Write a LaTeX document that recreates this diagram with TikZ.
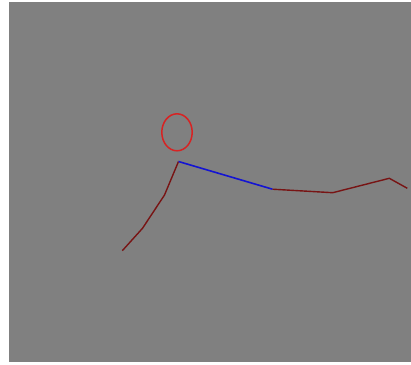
\documentclass[tikz,border=0pt]{standalone}
\usepackage{xcolor}
\usepackage{tikz}
\definecolor{bggray}{RGB}{128,128,128}
\definecolor{limbred}{RGB}{120,20,20}
\definecolor{headred}{RGB}{215,35,35}
\definecolor{torsoblue}{RGB}{20,20,210}

\begin{document}
\begin{tikzpicture}[
        x=1pt, y=-1pt,
        limb/.style={draw=limbred, line width=1.4pt, line join=round},
        torso/.style={draw=torsoblue, line width=1.6pt, line join=round},
        head/.style={draw=headred, line width=1.5pt}
    ]
        \useasboundingbox (0,0) rectangle (411,364);
        \fill[white] (0,0) rectangle (411,364);
        \fill[bggray] (9,2) rectangle (411,362);

        % Joints
        \coordinate (neck) at (178.5,161.5);
        \coordinate (elbow) at (164.5,195);
        \coordinate (wrist) at (142.5,228.3);
        \coordinate (hand) at (122.3,250.7);
        \coordinate (hip) at (272.5,189.2);
        \coordinate (knee) at (332.7,192.7);
        \coordinate (ankle) at (389.3,178.3);
        \coordinate (foot) at (407.3,188.3);

        % Head
        \draw[head] (177,132.3) ellipse [x radius=15.2, y radius=18.5];

        % Arm and body
        \draw[limb] (hand) -- (wrist) -- (elbow) -- (neck);
        \draw[torso] (neck) -- (hip);
        \draw[limb] (hip) -- (knee) -- (ankle) -- (foot);
    \end{tikzpicture}
\end{document}
